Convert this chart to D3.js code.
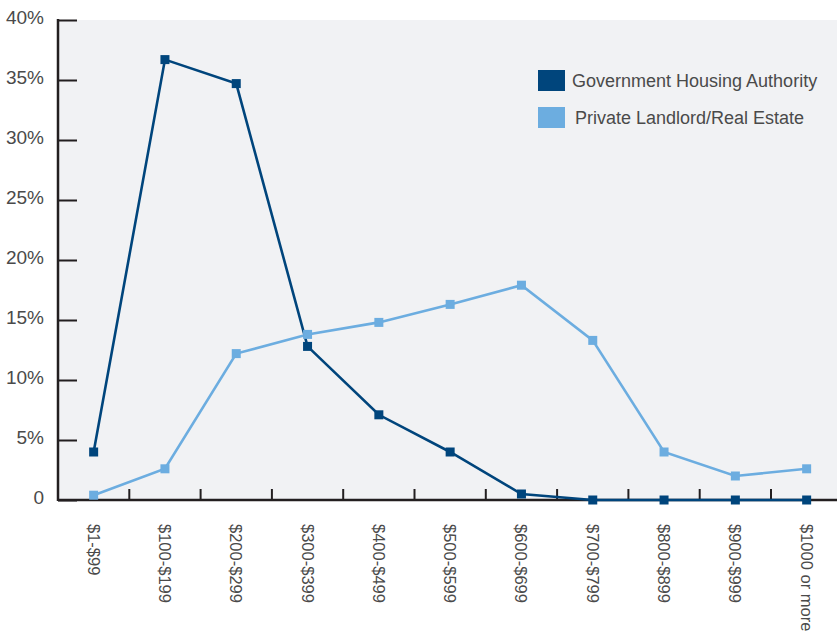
<!DOCTYPE html>
<html><head><meta charset="utf-8">
<script src="https://cdn.jsdelivr.net/npm/d3@7"></script>
<style>body{margin:0;background:#fff}svg{display:block}text{font-family:"Liberation Sans",Arial,sans-serif}</style>
</head><body>
<svg id="c" width="837" height="634"></svg>
<script>
const categories = ["$1-$99","$100-$199","$200-$299","$300-$399","$400-$499","$500-$599","$600-$699","$700-$799","$800-$899","$900-$999","$1000 or more"];
const government = [4.0,36.7,34.7,12.8,7.1,4.0,0.5,0,0,0,0];
const privateLL = [0.4,2.6,12.2,13.8,14.8,16.3,17.9,13.3,4.0,2.0,2.6];
const yTicks = [0,5,10,15,20,25,30,35,40];
const seriesNames = ["Government Housing Authority","Private Landlord/Real Estate"];
const colors = ["#00457c","#6cade0"];

(function(){
const svg = d3.select("#c");
const mL = 58, mT = 20, mB = 500, mR = 837;
const x = d3.scaleBand().domain(categories).range([mL, mL + 71.3*11]);
const y = d3.scaleLinear().domain([0,40]).range([mB, mT]);

svg.append("rect").attr("x",mL).attr("y",mT).attr("width",mR-mL).attr("height",mB-mT).attr("fill","#f1f2f4");

const yAxis = d3.axisRight(y).tickValues(yTicks).tickSize(19).tickFormat("");
const yg = svg.append("g").attr("transform",`translate(${mL},0)`).call(yAxis);
yg.select(".domain").remove();
yg.selectAll(".tick line").attr("stroke","#231f20").attr("stroke-width",2);
svg.append("line").attr("x1",mL).attr("x2",mL).attr("y1",mT-1).attr("y2",mB+1).attr("stroke","#231f20").attr("stroke-width",2.5);
svg.selectAll(".ylab").data(yTicks).enter().append("text")
  .attr("x",44).attr("y",d=>y(d)+3.5).attr("text-anchor","end")
  .attr("font-size",19).attr("fill","#4a4a4a").text(d=>d===0?"0":d+"%");

const bounds = categories.slice(1).map(c=>x(c));
svg.selectAll(".xt").data(bounds).enter().append("line")
  .attr("x1",d=>d).attr("x2",d=>d).attr("y1",mB-11).attr("y2",mB).attr("stroke","#231f20").attr("stroke-width",2);
svg.append("line").attr("x1",mL).attr("x2",mR).attr("y1",mB).attr("y2",mB).attr("stroke","#231f20").attr("stroke-width",2.5);

const cx = c => x(c) + x.bandwidth()/2;
svg.selectAll(".xl").data(categories).enter().append("text")
  .attr("transform",d=>`translate(${cx(d)-6},524) rotate(90)`)
  .attr("font-size",16.5).attr("fill","#4a4a4a").text(d=>d);

const line = d3.line().x((d,i)=>cx(categories[i])).y(d=>y(d));
[privateLL, government].forEach((s,k)=>{
  const col = k===0?colors[1]:colors[0];
  svg.append("path").datum(s).attr("d",line).attr("fill","none").attr("stroke",col).attr("stroke-width",2.6);
});
[privateLL, government].forEach((s,k)=>{
  const col = k===0?colors[1]:colors[0];
  svg.selectAll(null).data(s).enter().append("rect")
    .attr("x",(d,i)=>cx(categories[i])-4.5).attr("y",d=>y(d)-4.5)
    .attr("width",9).attr("height",9).attr("fill",col);
});

seriesNames.forEach((n,i)=>{
  const yy = 70 + i*37;
  svg.append("rect").attr("x",538).attr("y",yy).attr("width",27).attr("height",21).attr("fill",colors[i]);
  svg.append("text").attr("x",572 + (i===1?3:0)).attr("y",yy+17).attr("font-size",18).attr("fill","#4a4a4a").text(n);
});
})();
</script>
</body></html>
